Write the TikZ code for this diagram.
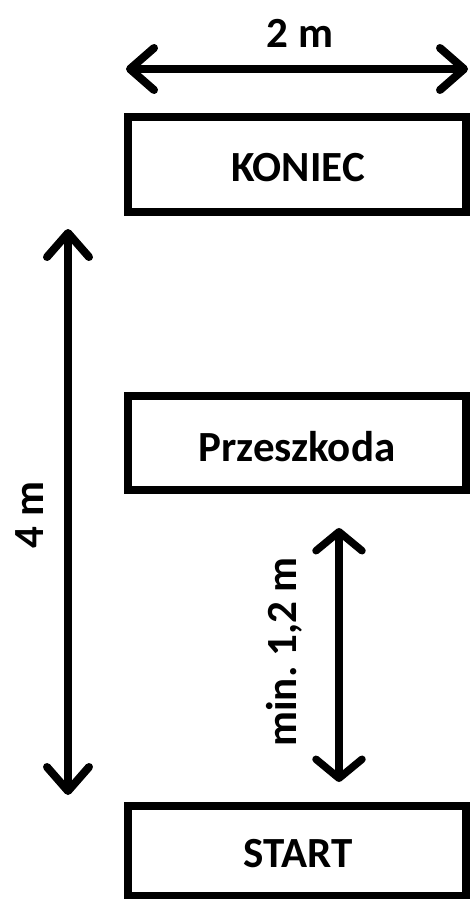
\documentclass[tikz,border=0pt]{standalone}
\usepackage{fontspec}
\setmainfont{Carlito}
\usetikzlibrary{arrows.meta}
\begin{document}
\begin{tikzpicture}[x=1pt,y=-1pt,
  lbl/.style={font=\fontsize{43}{47}\selectfont\bfseries, inner sep=0pt},
  field/.style={draw=black, line width=8.5pt, fill=white, inner sep=0pt},
  dim/.style={line width=8pt, line cap=round, {Straight Barb[length=24pt,width=42pt,line cap=round,line join=round]}-{Straight Barb[length=24pt,width=42pt,line cap=round,line join=round]}},
  dimsmall/.style={line width=7.5pt, line cap=round, {Straight Barb[length=19pt,width=46pt,line cap=round,line join=round]}-{Straight Barb[length=19pt,width=46pt,line cap=round,line join=round]}}
]
\path[use as bounding box, fill=white] (0,0) rectangle (470,899);
\clip (0,0) rectangle (470,899);

% boxes
\draw[field] (128,117) rectangle (466,212);
\node[lbl] (koniec) at (298,168) {KONIEC};
\draw[field] (128,396) rectangle (466,490);
\node[lbl] (przeszkoda) at (297,447) {Przeszkoda};
\draw[field] (128,806) rectangle (466,896);
\node[lbl] (start) at (298,854) {START};

% dimension arrows
\coordinate (wL) at (126,69);
\coordinate (wR) at (468,69);
\draw[dim] (wL) -- (wR);
\node[lbl] (w) at (300,33) {2 m};

\coordinate (hT) at (68,229);
\coordinate (hB) at (68,795);
\draw[dim] (hT) -- (hB);
\node[lbl, rotate=90] (h) at (30,515) {4 m};

\coordinate (mT) at (339,528);
\coordinate (mB) at (339,782);
\draw[dimsmall] (mT) -- (mB);
\node[lbl, rotate=90] (m) at (284,652) {min.\ 1,2 m};
\end{tikzpicture}
\end{document}
